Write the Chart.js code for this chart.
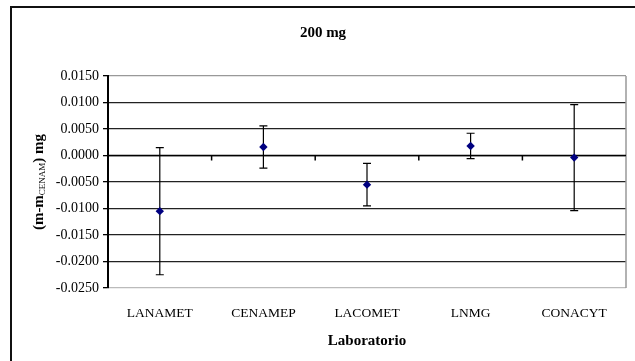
<!DOCTYPE html>
<html>
<head>
<meta charset="utf-8">
<script src="https://cdn.jsdelivr.net/npm/chart.js@4/dist/chart.umd.min.js"></script>
<style>
  html, body { margin: 0; padding: 0; background: #fff; }
  #wrap { width: 635px; height: 361px; position: relative; }
</style>
</head>
<body>
<div id="wrap"><canvas id="chart" width="635" height="361"></canvas></div>
<script>
// data
var labs = ['LANAMET', 'CENAMEP', 'LACOMET', 'LNMG', 'CONACYT'];
var diffs = [-0.0105, 0.0016, -0.0055, 0.0018, -0.0004];
var uncs = [0.0120, 0.0040, 0.0040, 0.0024, 0.0100];
var yMin = -0.025, yMax = 0.015, yStep = 0.005;

var serif = '"Liberation Serif", "Times New Roman", serif';

var extras = {
    id: 'extras',
    beforeDraw: function (chart) {
        var c = chart.ctx;
        c.save();
        c.fillStyle = '#fff';
        c.fillRect(0, 0, chart.width, chart.height);
        c.restore();
    },
    beforeDatasetsDraw: function (chart) {
        var c = chart.ctx, a = chart.chartArea;
        var xs = chart.scales.x, ys = chart.scales.y;
        c.save();
        // right border of plot area
        c.strokeStyle = '#999';
        c.lineWidth = 1.5;
        c.beginPath();
        c.moveTo(a.right, a.top);
        c.lineTo(a.right, a.bottom);
        c.stroke();
        // x axis crossing at zero, tick marks between categories
        var y0 = ys.getPixelForValue(0);
        c.strokeStyle = '#000';
        c.lineWidth = 1.5;
        c.beginPath();
        c.moveTo(a.left, y0);
        c.lineTo(a.right, y0);
        for (var i = 1; i < labs.length; i++) {
            var xb = (xs.getPixelForValue(i - 1) + xs.getPixelForValue(i)) / 2;
            c.moveTo(xb, y0);
            c.lineTo(xb, y0 + 5);
        }
        c.stroke();
        // error bars
        c.strokeStyle = '#000';
        c.lineWidth = 1.2;
        c.beginPath();
        diffs.forEach(function (d, i) {
            var x = xs.getPixelForValue(i);
            var yt = ys.getPixelForValue(d + uncs[i]);
            var yb = ys.getPixelForValue(d - uncs[i]);
            c.moveTo(x, yt); c.lineTo(x, yb);
            c.moveTo(x - 4, yt); c.lineTo(x + 4, yt);
            c.moveTo(x - 4, yb); c.lineTo(x + 4, yb);
        });
        c.stroke();
        c.restore();
    },
    afterDraw: function (chart) {
        var c = chart.ctx, a = chart.chartArea;
        c.save();
        // outer frame
        c.strokeStyle = '#111';
        c.lineWidth = 2;
        c.beginPath();
        c.moveTo(11, chart.height);
        c.lineTo(11, 7);
        c.lineTo(chart.width, 7);
        c.stroke();
        // title
        c.fillStyle = '#000';
        c.textAlign = 'center';
        c.textBaseline = 'alphabetic';
        c.font = 'bold 15px ' + serif;
        c.fillText('200 mg', 323, 37);
        // x title
        c.fillText('Laboratorio', (a.left + a.right) / 2, 345);
        // y title with subscript
        c.translate(43, (a.top + a.bottom) / 2);
        c.rotate(-Math.PI / 2);
        var p1 = '(m-m', sub = 'CENAM', p2 = ') mg';
        c.font = 'bold 15px ' + serif;
        var w1 = c.measureText(p1).width, w3 = c.measureText(p2).width;
        c.font = '9px ' + serif;
        var w2 = c.measureText(sub).width;
        var x = -(w1 + w2 + w3) / 2;
        c.textAlign = 'left';
        c.font = 'bold 15px ' + serif;
        c.fillText(p1, x, 0);
        c.font = '9px ' + serif;
        c.fillText(sub, x + w1, 2);
        c.font = 'bold 15px ' + serif;
        c.fillText(p2, x + w1 + w2, 0);
        c.restore();
    }
};

new Chart(document.getElementById('chart'), {
    type: 'line',
    data: {
        labels: labs,
        datasets: [{
            data: diffs,
            showLine: false,
            pointStyle: 'rectRot',
            pointRadius: 4.2,
            pointHoverRadius: 4.2,
            backgroundColor: '#000080',
            borderColor: '#000080',
            borderWidth: 0
        }]
    },
    options: {
        responsive: false,
        animation: false,
        layout: { padding: { top: 76, right: 9, bottom: 0, left: 0 } },
        plugins: { legend: { display: false }, title: { display: false }, tooltip: { enabled: false } },
        scales: {
            x: {
                type: 'category',
                offset: true,
                grid: { display: false },
                border: { display: false },
                ticks: { color: '#000', font: { family: serif, size: 13.5 }, padding: 9, maxRotation: 0, autoSkip: false },
                afterFit: function (s) { s.height = 73; }
            },
            y: {
                min: yMin,
                max: yMax,
                afterFit: function (s) { s.width = 108; },
                ticks: {
                    stepSize: yStep,
                    color: '#000',
                    padding: 4,
                    font: { family: serif, size: 14 },
                    callback: function (v) { return Math.abs(v) < 1e-9 ? '0.0000' : v.toFixed(4); }
                },
                grid: {
                    tickLength: 5,
                    tickColor: '#000',
                    lineWidth: 1.3,
                    color: function (ctx) {
                        var v = ctx.tick ? ctx.tick.value : 0;
                        if (Math.abs(v - yMax) < 1e-9) return '#999';
                        if (Math.abs(v - yMin) < 1e-9) return '#bbb';
                        return '#222';
                    }
                },
                border: { display: true, color: '#000', width: 2 }
            }
        }
    },
    plugins: [extras]
});
</script>
</body>
</html>
